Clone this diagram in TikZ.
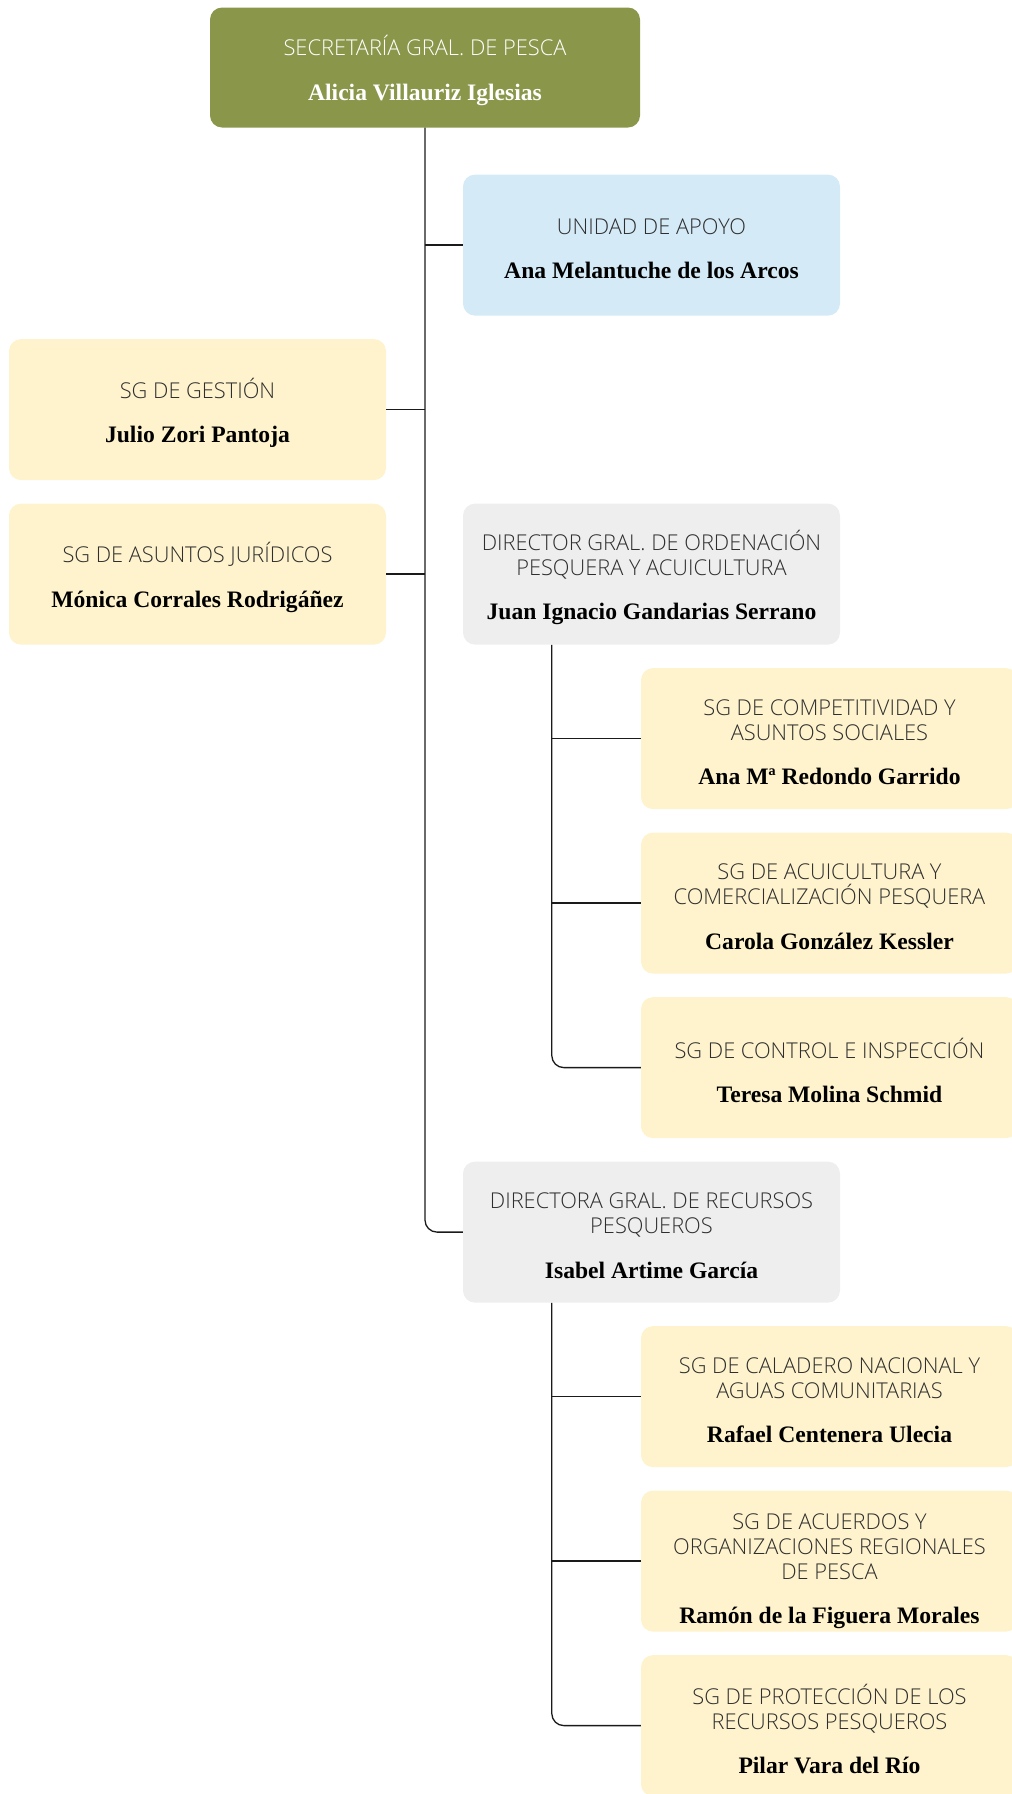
\documentclass[tikz,border=0pt]{standalone}
\usepackage{fontspec}
\setmainfont{Liberation Serif}
\newfontfamily\lightsans{Open Sans Light}
\newfontfamily\namefont{Liberation Serif}
\definecolor{secgreen}{HTML}{8A974B}
\definecolor{apoyoblue}{HTML}{D4EAF7}
\definecolor{sgyellow}{HTML}{FEF3CC}
\definecolor{dggray}{HTML}{EEEEEE}
\definecolor{titlegray}{HTML}{2E2E2E}
\definecolor{linegray}{HTML}{1A1A1A}
\newcommand{\ttl}{\lightsans\fontsize{21.8}{25}\selectfont\color{titlegray}}
\newcommand{\nm}[1]{\\[19.5pt]{\namefont\bfseries\fontsize{23.6}{25}\selectfont#1}}
\tikzset{
  unitbox/.style={rectangle, rounded corners=12pt, minimum width=377pt, minimum height=141pt,
    inner sep=0pt},
  yellowbox/.style={unitbox, fill=sgyellow},
  graybox/.style={unitbox, fill=dggray},
  txt/.style={inner sep=0pt, align=center, font=\ttl, text=titlegray},
  conn/.style={draw=linegray, line width=1.3pt},
}
\begin{document}
\begin{tikzpicture}[x=1pt,y=-1pt]
\useasboundingbox (0,0) rectangle (1012,1794);
\clip (0,0) rectangle (1012,1794);
% boxes
\node[unitbox, fill=secgreen, minimum width=430pt, minimum height=120pt] (sec) at (425,67.5) {};
\node[unitbox, fill=apoyoblue] (apoyo) at (651.5,245.1) {};
\node[yellowbox] (gestion) at (197.5,409.6) {};
\node[yellowbox] (juridicos) at (197.5,574.1) {};
\node[graybox] (dgo) at (651.5,574.1) {};
\node[yellowbox] (comp) at (829.5,738.6) {};
\node[yellowbox] (acui) at (829.5,903.1) {};
\node[yellowbox] (control) at (829.5,1067.6) {};
\node[graybox] (dgr) at (651.5,1232.1) {};
\node[yellowbox] (calad) at (829.5,1396.6) {};
\node[yellowbox] (acuer) at (829.5,1561.1) {};
\node[yellowbox] (prot) at (829.5,1725.6) {};
% texts
\node[txt, text=white] (sec-t) at ([yshift=-3pt]sec.center)
  {SECRETARÍA GRAL. DE PESCA\nm{Alicia Villauriz Iglesias}};
\node[txt] (apoyo-t) at ([yshift=-3.5pt]apoyo.center) {UNIDAD DE APOYO\nm{\color{black}Ana Melantuche de los Arcos}};
\node[txt] (gestion-t) at ([yshift=-3.5pt]gestion.center) {SG DE GESTIÓN\nm{\color{black}Julio Zori Pantoja}};
\node[txt] (juridicos-t) at ([yshift=-3.5pt]juridicos.center) {SG DE ASUNTOS JURÍDICOS\nm{\color{black}Mónica Corrales Rodrigáñez}};
\node[txt] (dgo-t) at ([yshift=-3.5pt]dgo.center) {DIRECTOR GRAL. DE ORDENACIÓN\\PESQUERA Y ACUICULTURA\nm{\color{black}Juan Ignacio Gandarias Serrano}};
\node[txt] (comp-t) at ([yshift=-3.5pt]comp.center) {SG DE COMPETITIVIDAD Y\\ASUNTOS SOCIALES\nm{\color{black}Ana Mª Redondo Garrido}};
\node[txt] (acui-t) at ([yshift=-3.5pt]acui.center) {SG DE ACUICULTURA Y\\COMERCIALIZACIÓN PESQUERA\nm{\color{black}Carola González Kessler}};
\node[txt] (control-t) at ([yshift=-3pt]control.center) {SG DE CONTROL E INSPECCIÓN\nm{\color{black}Teresa Molina Schmid}};
\node[txt] (dgr-t) at ([yshift=-3.5pt]dgr.center) {DIRECTORA GRAL. DE RECURSOS\\PESQUEROS\nm{\color{black}Isabel Artime García}};
\node[txt] (calad-t) at ([yshift=-3.5pt]calad.center) {SG DE CALADERO NACIONAL Y\\AGUAS COMUNITARIAS\nm{\color{black}Rafael Centenera Ulecia}};
\node[txt] (acuer-t) at ([yshift=-10pt]acuer.center) {SG DE ACUERDOS Y\\ORGANIZACIONES REGIONALES\\DE PESCA\nm{\color{black}Ramón de la Figuera Morales}};
\node[txt] (prot-t) at ([yshift=-3.5pt]prot.center) {SG DE PROTECCIÓN DE LOS\\RECURSOS PESQUEROS\nm{\color{black}Pilar Vara del Río}};
% connectors
\draw[conn, rounded corners=12pt] (sec.south) |- (dgr.west);
\draw[conn] (apoyo.west) -- (apoyo.west -| sec.south);
\draw[conn] (gestion.east) -- (gestion.east -| sec.south);
\draw[conn] (juridicos.east) -- (juridicos.east -| sec.south);
\coordinate (s1) at ([xshift=89pt]dgo.south west);
\draw[conn, rounded corners=12pt] (s1) |- (control.west);
\draw[conn] (comp.west) -- (comp.west -| s1);
\draw[conn] (acui.west) -- (acui.west -| s1);
\coordinate (s2) at ([xshift=89pt]dgr.south west);
\draw[conn, rounded corners=12pt] (s2) |- (prot.west);
\draw[conn] (calad.west) -- (calad.west -| s2);
\draw[conn] (acuer.west) -- (acuer.west -| s2);
\end{tikzpicture}
\end{document}
